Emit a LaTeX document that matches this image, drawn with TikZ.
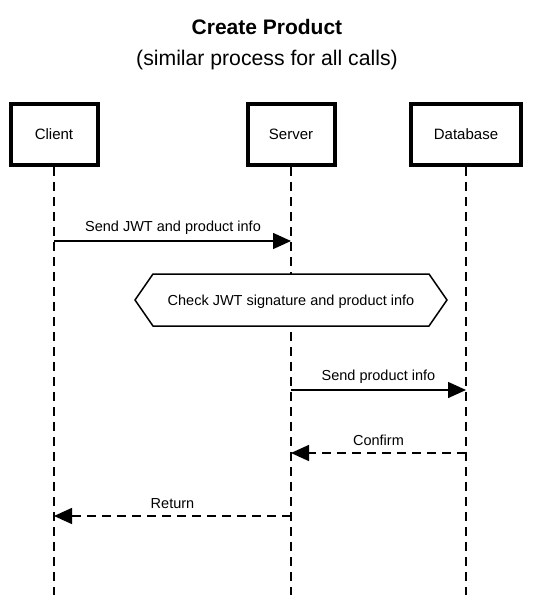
\documentclass[tikz,border=0pt]{standalone}
\usepackage{fontspec}
\setmainfont{Liberation Sans}
\usetikzlibrary{arrows.meta}
\begin{document}
\begin{tikzpicture}[x=1pt,y=-1pt,
  actor/.style={draw, line width=4pt, minimum width=87pt, minimum height=61pt, inner sep=0pt, font=\fontsize{15}{17}\selectfont, fill=white},
  lifeline/.style={line width=1.5pt, dash pattern=on 9pt off 6pt},
  msg/.style={line width=1.5pt, -{Triangle[length=18pt,width=16pt]}},
  reply/.style={msg, dash pattern=on 9pt off 6pt},
  lbl/.style={font=\fontsize{14.5}{16}\selectfont, inner sep=0pt, yshift=-1.5pt}]
\useasboundingbox (0,0) rectangle (533,595);
\fill[white] (0,0) rectangle (533,595);
\node[font=\bfseries\fontsize{21}{24}\selectfont] (title) at (267,27) {Create Product};
\node[font=\fontsize{21.2}{24}\selectfont] (sub) at (267,60) {(similar process for all calls)};
% lifeline ends
\coordinate (ce) at (54,595);
\coordinate (se) at (291,595);
\coordinate (de) at (466,595);
\node[actor] (client) at (54,134.5) {Client};
\node[actor] (server) at (291,134.5) {Server};
\node[actor, minimum width=110pt] (db) at (466,134.5) {Database};
\draw[lifeline] (client.south) -- (ce);
\draw[lifeline] (server.south) -- (se);
\draw[lifeline] (db.south) -- (de);
% coordinates on lifelines
\coordinate (c1) at (54,241);
\coordinate (s1) at (291,241);
\coordinate (s2) at (291,390);
\coordinate (d2) at (466,390);
\coordinate (d3) at (466,453);
\coordinate (s3) at (291,453);
\coordinate (s4) at (291,516);
\coordinate (c4) at (54,516);
\draw[msg] (c1) -- (s1);
\node[lbl] (l1) at (173,226) {Send JWT and product info};
% hexagon
\fill[white] (135,300) -- (153,274) -- (429,274) -- (447,300) -- (429,326) -- (153,326) -- cycle;
\draw[line width=1.5pt] (135,300) -- (153,274) -- (429,274) -- (447,300) -- (429,326) -- (153,326) -- cycle;
\node[lbl] (chk) at (291,300) {Check JWT signature and product info};
\draw[msg] (s2) -- (d2);
\node[lbl] (l2) at (378.5,375) {Send product info};
\draw[reply] (d3) -- (s3);
\node[lbl] (l3) at (378.5,439) {Confirm};
\draw[reply] (s4) -- (c4);
\node[lbl] (l4) at (172.5,502) {Return};
\end{tikzpicture}
\end{document}
